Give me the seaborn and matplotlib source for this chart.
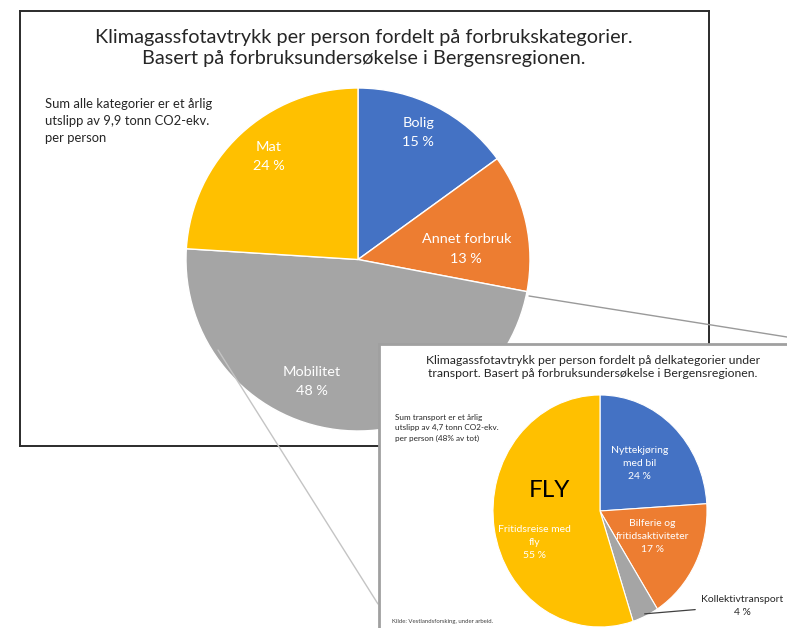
import matplotlib
matplotlib.use("Agg")
import matplotlib.pyplot as plt
from matplotlib.lines import Line2D
import seaborn as sns
import numpy as np

# ---------------- data ----------------
main_categories = ["Bolig", "Annet forbruk", "Mobilitet", "Mat"]
main_values = [15, 13, 48, 24]
main_colors = ["#4472C4", "#ED7D31", "#A5A5A5", "#FFC000"]

sub_categories = ["Nyttekjøring\nmed bil", "Bilferie og\nfritidsaktiviteter",
                  "Kollektivtransport", "Fritidsreise med\nfly"]
sub_values = [24, 17, 4, 55]
sub_colors = ["#4472C4", "#ED7D31", "#A5A5A5", "#FFC000"]

main_title = ("Klimagassfotavtrykk per person fordelt på forbrukskategorier.\n"
              "Basert på forbruksundersøkelse i Bergensregionen.")
main_note = "Sum alle kategorier er et årlig\nutslipp av 9,9 tonn CO2-ekv.\nper person"
sub_title = ("Klimagassfotavtrykk per person fordelt på delkategorier under\n"
             "transport. Basert på forbruksundersøkelse i Bergensregionen.")
sub_note = "Sum transport er et årlig\nutslipp av 4,7 tonn CO2-ekv.\nper person (48% av tot)"
source = "Kilde: Vestlandsforsking, under arbeid."

# ---------------- style ----------------
sns.set_theme(style="white")
plt.rcParams["font.family"] = ["Lato", "DejaVu Sans"]

W, H = 787, 628
fig = plt.figure(figsize=(W / 100, H / 100), dpi=100)
fig.patch.set_facecolor("white")


def box(x0, y0, x1, y1):
    return [x0 / W, 1 - y1 / H, (x1 - x0) / W, (y1 - y0) / H]


def fx(x):
    return x / W


def fy(y):
    return 1 - y / H


# main frame
bg = fig.add_axes(box(20, 11, 709, 446), zorder=0)
bg.set_xticks([]); bg.set_yticks([])
for s in bg.spines.values():
    s.set_color("#2b2b2b"); s.set_linewidth(1.4)

# main pie
ax = fig.add_axes(box(186, 88, 530, 431), zorder=1)
ax.pie(main_values, colors=main_colors, startangle=90, counterclock=False,
       wedgeprops=dict(edgecolor="white", linewidth=1.0), radius=1)
ax.set_aspect("auto"); ax.set_xlim(-1, 1); ax.set_ylim(-1, 1); ax.axis("off")
main_label_pos = [(0.35, 0.74), (0.63, 0.06), (-0.27, -0.71), (-0.52, 0.60)]
for cat, v, (lx, ly) in zip(main_categories, main_values, main_label_pos):
    ax.text(lx, ly, f"{cat}\n{v} %", ha="center", va="center", color="white",
            fontsize=10.4, linespacing=1.75)

fig.text(fx(364), fy(48), main_title, ha="center", va="center", fontsize=14.3,
         color="#262626", linespacing=1.35)
fig.text(fx(45), fy(121), main_note, ha="left", va="center", fontsize=9.4,
         color="#262626", linespacing=1.5)

# connector lines
fig.add_artist(Line2D([fx(529), fx(787)], [fy(296), fy(337)], transform=fig.transFigure,
                      color="#9a9a9a", lw=1.0, zorder=1.5))
fig.add_artist(Line2D([fx(218), fx(378)], [fy(350), fy(604)], transform=fig.transFigure,
                      color="#c4c4c4", lw=1.0, zorder=1.5))

# inset frame
ib = fig.add_axes(box(379, 344, 800, 640), zorder=2)
ib.set_facecolor("white")
ib.set_xticks([]); ib.set_yticks([])
for s in ib.spines.values():
    s.set_color("#a0a0a0"); s.set_linewidth(2.0)

# inset pie
ax2 = fig.add_axes(box(493, 395, 707, 627), zorder=3)
wedges, _ = ax2.pie(sub_values, colors=sub_colors, startangle=90, counterclock=False,
                    wedgeprops=dict(edgecolor="white", linewidth=0.8), radius=1)
ax2.set_aspect("auto"); ax2.set_xlim(-1, 1); ax2.set_ylim(-1, 1); ax2.axis("off")
sub_label_pos = [(0.37, 0.41), (0.49, -0.22), None, (-0.61, -0.27)]
for cat, v, pos in zip(sub_categories, sub_values, sub_label_pos):
    if pos is None:
        continue
    ax2.text(pos[0], pos[1], f"{cat}\n{v} %", ha="center", va="center", color="white",
             fontsize=7.5, linespacing=1.55)
ax2.text(-0.47, 0.18, "FLY", ha="center", va="center", color="black", fontsize=17.5)

# Kollektivtransport outside label with leader
k = 2
theta = np.deg2rad(90 - 360 * (sum(sub_values[:k]) + sub_values[k] / 2) / sum(sub_values))
ex, ey = np.cos(theta), np.sin(theta)
ax2.plot([ex * 0.98, 0.89], [ey * 0.98, -0.85], color="#404040", lw=0.9, clip_on=False)
ax2.text(1.33, -0.82, f"{sub_categories[k]}\n{sub_values[k]} %", ha="center", va="center",
         color="#262626", fontsize=7.5, linespacing=1.6, clip_on=False)

fig.text(fx(593), fy(367), sub_title, ha="center", va="center", fontsize=8.8,
         color="#262626", linespacing=1.3, zorder=4)
fig.text(fx(395), fy(428), sub_note, ha="left", va="center", fontsize=5.9,
         color="#262626", linespacing=1.5, zorder=4)
fig.text(fx(392), fy(621), source, ha="left", va="center", fontsize=4.3,
         color="#404040", zorder=4)

fig.savefig("out.png", dpi=100)
